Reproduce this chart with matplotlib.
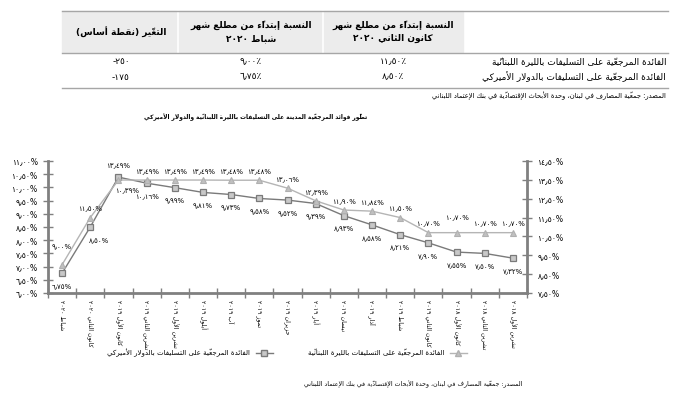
import matplotlib
matplotlib.use("Agg")
import matplotlib.pyplot as plt
import numpy as np
from matplotlib.lines import Line2D
from matplotlib.patches import Rectangle
from matplotlib.ticker import FuncFormatter

plt.rcParams['font.family'] = ['DejaVu Sans']

# ---------- data ----------
months = ['شباط ٢٠٢٠', 'كانون الثاني ٢٠٢٠', 'كانون الأول ٢٠١٩', 'تشرين الثاني ٢٠١٩',
          'تشرين الأول ٢٠١٩', 'أيلول ٢٠١٩', 'آب ٢٠١٩', 'تموز ٢٠١٩', 'حزيران ٢٠١٩',
          'أيار ٢٠١٩', 'نيسان ٢٠١٩', 'آذار ٢٠١٩', 'شباط ٢٠١٩', 'كانون الثاني ٢٠١٩',
          'كانون الأول ٢٠١٨', 'تشرين الثاني ٢٠١٨', 'تشرين الأول ٢٠١٨']
lbp_rate = [9.00, 11.50, 13.49, 13.49, 13.49, 13.49, 13.48, 13.48, 13.06,
            12.39, 11.90, 11.84, 11.50, 10.70, 10.70, 10.70, 10.70]
usd_rate = [6.75, 8.50, 10.39, 10.16, 9.99, 9.81, 9.73, 9.58, 9.52,
            9.39, 8.93, 8.58, 8.21, 7.90, 7.55, 7.50, 7.32]

lbp_name = 'الفائدة المرجعيّة على التسليفات بالليرة اللبنانيّة'
usd_name = 'الفائدة المرجعيّة على التسليفات بالدولار الأميركي'

table_cols = ['التغيّر (نقطة أساس)',
              'النسبة إبتداءً من مطلع شهر\nشباط ٢٠٢٠',
              'النسبة إبتداءً من مطلع شهر\nكانون الثاني ٢٠٢٠']
table_rows = [lbp_name, usd_name]
table_vals = [['-٢٥٠', '٩٫٠٠٪', '١١٫٥٠٪'],
              ['-١٧٥', '٦٫٧٥٪', '٨٫٥٠٪']]

title = 'تطوّر فوائد المرجعيّة المدينة على التسليفات بالليرة اللبنانيّة والدولار الأميركي'
source = 'المصدر: جمعيّة المصارف في لبنان، وحدة الأبحاث الإقتصاديّة في بنك الإعتماد اللبناني'

# ---------- arabic shaping (matplotlib does no bidi / joining) ----------
counts1 = [1, 2, 2, 2, 2, 4, 2, 4, 2, 4, 4, 4, 4, 4, 2, 2, 2, 2, 4, 4, 4, 4, 4, 4, 4, 4]
counts2 = [4, 4, 4, 4, 4, 4, 4, 2, 2, 4]
FORMS = {}
code = 0xFE80
for i, n in enumerate(counts1):
    FORMS[chr(0x0621 + i)] = [chr(code + k) for k in range(n)]
    code += n
for i, n in enumerate(counts2):
    FORMS[chr(0x0641 + i)] = [chr(code + k) for k in range(n)]
    code += n
LAMALEF = {'آ': '\uFEF5\uFEF6', 'أ': '\uFEF7\uFEF8', 'إ': '\uFEF9\uFEFA', 'ا': '\uFEFB\uFEFC'}
NUMCH = set('0123456789٠١٢٣٤٥٦٧٨٩٫.,%٪')
MIRROR = {'(': ')', ')': '('}


def is_mark(c):
    return '\u064B' <= c <= '\u065F' or c == '\u0670'


def jtype(b):
    if b.startswith('LA'):
        return 'R'
    if b in FORMS:
        return {4: 'D', 2: 'R', 1: 'U'}[len(FORMS[b])]
    return None


def shape_line(s):
    units = []
    for c in s:
        if is_mark(c) and units:
            units[-1][1] += c
        else:
            units.append([c, ''])
    merged = []
    i = 0
    while i < len(units):
        b, m = units[i]
        if b == 'ل' and i + 1 < len(units) and units[i + 1][0] in LAMALEF:
            merged.append(['LA' + units[i + 1][0], m + units[i + 1][1]])
            i += 2
        else:
            merged.append([b, m])
            i += 1
    out = []
    for i, (b, m) in enumerate(merged):
        t = jtype(b)
        prev_j = i > 0 and jtype(merged[i - 1][0]) == 'D'
        next_j = t == 'D' and i + 1 < len(merged) and jtype(merged[i + 1][0]) in ('D', 'R')
        if b.startswith('LA'):
            g = LAMALEF[b[2]][1 if prev_j else 0]
        elif t == 'D':
            g = FORMS[b][3 if (prev_j and next_j) else 1 if prev_j else 2 if next_j else 0]
        elif t == 'R':
            g = FORMS[b][1 if prev_j else 0]
        elif t == 'U':
            g = FORMS[b][0]
        else:
            g = b
        out.append((g, m, b))
    # bidi: reverse runs, keep number runs left to right
    runs = []
    for g, m, b in out:
        isnum = b in NUMCH
        if runs and runs[-1][0] == isnum:
            runs[-1][1].append((g, m))
        else:
            runs.append([isnum, [(g, m)]])
    vis = ''
    for isnum, cl in reversed(runs):
        if isnum:
            vis += ''.join(g + m for g, m in cl)
        else:
            vis += ''.join(MIRROR.get(g, g) + m for g, m in reversed(cl))
    return vis


def ar(s):
    return '\n'.join(shape_line(l) for l in s.split('\n'))


def ar_num(v):
    return f'{v:.2f}'.translate(str.maketrans('0123456789.', '٠١٢٣٤٥٦٧٨٩٫')) + '%'


# ---------- figure ----------
W, H = 695, 399
fig = plt.figure(figsize=(W / 100, H / 100), dpi=100)


def fx(px):
    return px / W


def fy(py):
    return 1 - py / H


gray = '#808080'
line_c = '#a6a6a6'

# table
for x0, x1 in [(62, 176), (179, 321), (324, 463)]:
    fig.patches.append(Rectangle((fx(x0), fy(52)), fx(x1) - fx(x0), fy(11) - fy(52),
                                 transform=fig.transFigure, color='#ececec', zorder=0))
for yy in [10.5, 52.5, 87.5]:
    fig.add_artist(Line2D([fx(62), fx(668)], [fy(yy), fy(yy)], color=line_c, lw=1))
col_x = [121, 251, 393]
for cx, lab in zip(col_x, table_cols):
    fig.text(fx(cx), fy(32), ar(lab), ha='center', va='center', fontsize=6.5,
             fontweight='bold', linespacing=1.6)
row_y = [62, 77]
for ry, lab, vals in zip(row_y, table_rows, table_vals):
    fig.text(fx(666), fy(ry), ar(lab), ha='right', va='center', fontsize=6.5)
    for cx, v in zip(col_x, vals):
        fig.text(fx(cx), fy(ry), v, ha='center', va='center', fontsize=6.5)
fig.text(fx(666), fy(96), ar(source), ha='right', va='center', fontsize=4.9)

fig.text(fx(256), fy(117), ar(title), ha='center', va='center', fontsize=4.2, fontweight='bold')

# chart
ax = fig.add_axes([fx(48), fy(293), fx(527) - fx(48), fy(161) - fy(293)])
ax2 = ax.twinx()
x = np.arange(len(months))
ax.plot(x, usd_rate, color='#7a7a7a', lw=1, marker='s', ms=4.5, mfc='#c8c8c8',
        mec='#7a7a7a', mew=0.9, zorder=3)
ax2.plot(x, lbp_rate, color='#b5b5b5', lw=1, marker='^', ms=4.5, mfc='#c0c0c0',
         mec='#b0b0b0', mew=0.8)
ax.set_xlim(-0.5, len(months) - 0.5)
ax.set_ylim(6, 11)
ax2.set_ylim(7.5, 14.5)

for a in (ax, ax2):
    a.spines['top'].set_visible(False)
    for s in a.spines.values():
        s.set_color(gray)
        s.set_linewidth(2)
ax.spines['right'].set_visible(False)
ax2.spines['left'].set_visible(False)
ax2.spines['bottom'].set_visible(False)

ax.set_yticks(np.arange(6, 11.01, 0.5))
ax2.set_yticks(np.arange(7.5, 14.51, 1))
fmt = FuncFormatter(lambda v, _: ar_num(v))
ax.yaxis.set_major_formatter(fmt)
ax2.yaxis.set_major_formatter(fmt)
ax.tick_params(axis='y', direction='inout', length=7, width=1, color=gray, labelsize=5.5, pad=4)
ax2.tick_params(axis='y', direction='inout', length=7, width=1, color=gray, labelsize=5.5, pad=4)

ax.set_xticks(x)
ax.set_xticklabels([ar(m) for m in months], rotation=270, fontsize=4.5)
ax.set_xticks(np.arange(-0.5, len(months), 1), minor=True)
ax.tick_params(axis='x', which='major', length=0, pad=5)
ax.tick_params(axis='x', which='minor', direction='inout', length=7, width=1, color=gray)

# data labels
for i, v in enumerate(lbp_rate):
    dy = 9
    if i == 0:
        dy = 18
    elif i in (2, 14):
        dy = 15
    ax2.annotate(ar_num(v), (i, v), xytext=(0, dy), textcoords='offset pixels',
                 ha='center', va='center', fontsize=5)
for i, v in enumerate(usd_rate):
    dx = 0
    if i in (1, 2):
        dx = 9
    ax.annotate(ar_num(v), (i, v), xytext=(dx, -13), textcoords='offset pixels',
                ha='center', va='center', fontsize=5)

# legend
h_usd = Line2D([], [], color='#7a7a7a', lw=1, marker='s', ms=4.5, mfc='#c8c8c8', mec='#7a7a7a')
h_lbp = Line2D([], [], color='#b5b5b5', lw=1, marker='^', ms=4.5, mfc='#c0c0c0', mec='#b0b0b0')
fig.legend([h_usd, h_lbp], [ar(usd_name), ar(lbp_name)], loc='center',
           bbox_to_anchor=(fx(287), fy(353)), ncol=2, frameon=False, markerfirst=False,
           fontsize=5, columnspacing=5, handlelength=2.5)

fig.text(fx(522), fy(384), ar(source), ha='right', va='center', fontsize=4.5)

fig.savefig('out.png', dpi=100)
